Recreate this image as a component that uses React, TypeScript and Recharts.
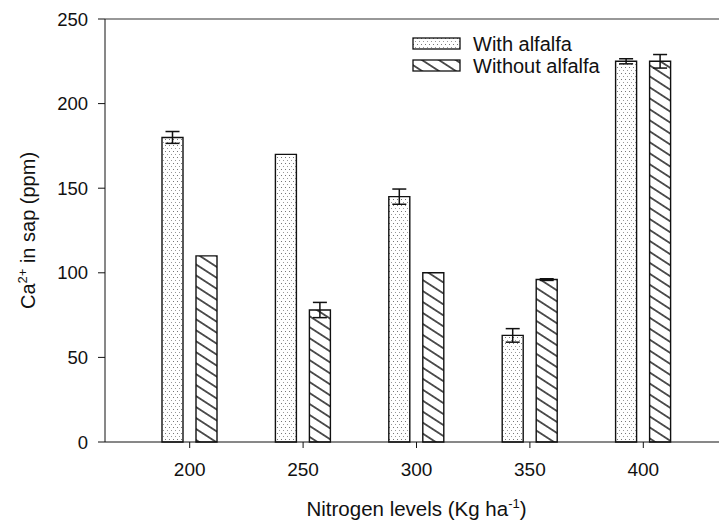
import { BarChart, Bar, XAxis, YAxis, ErrorBar, ReferenceLine, Legend, Label } from "recharts";

const NITROGEN = ["200", "250", "300", "350", "400"];
const WITH_ALFALFA = [180, 170, 145, 63, 225];
const WITH_ALFALFA_ERR = [3.5, 0, 4.5, 4, 1.5];
const WITHOUT_ALFALFA = [110, 78, 100, 96, 225];
const WITHOUT_ALFALFA_ERR = [0, 4.5, 0, 0.5, 4];
const Y_TICKS = [0, 50, 100, 150, 200, 250];

const FONT = '"Liberation Sans", Arial, sans-serif';
const INK = "#111";

const data = NITROGEN.map((n, i) => ({
  n,
  withA: WITH_ALFALFA[i],
  withErr: WITH_ALFALFA_ERR[i],
  withoutA: WITHOUT_ALFALFA[i],
  withoutErr: WITHOUT_ALFALFA_ERR[i],
}));

const Patterns = ({ prefix }: { prefix: string }) => (
  <defs>
    <pattern id={`${prefix}-dots`} width={4} height={6} patternUnits="userSpaceOnUse">
      <rect width={4} height={6} fill="#fff" />
      <rect x={1} y={1} width={1} height={1} fill="#777" />
      <rect x={3} y={4} width={1} height={1} fill="#999" />
    </pattern>
    <pattern
      id={`${prefix}-hatch`}
      width={10}
      height={9.2}
      patternUnits="userSpaceOnUse"
      patternTransform="rotate(33)"
    >
      <rect width={10} height={9.2} fill="#fff" />
      <line x1={0} y1={4.6} x2={10} y2={4.6} stroke={INK} strokeWidth={1.4} />
    </pattern>
  </defs>
);

const LEGEND_ROWS = [
  { label: "With alfalfa", fill: "dots" },
  { label: "Without alfalfa", fill: "hatch" },
];

const LegendBox = () => (
  <div style={{ fontFamily: FONT, fontSize: 20, color: INK }}>
    {LEGEND_ROWS.map((r) => (
      <div key={r.label} style={{ display: "flex", alignItems: "center", height: 22 }}>
        <svg width={50} height={14} style={{ flex: "none" }}>
          <Patterns prefix={`lg-${r.fill}`} />
          <rect
            x={1}
            y={1}
            width={47}
            height={11}
            fill={`url(#lg-${r.fill}-${r.fill})`}
            stroke={INK}
            strokeWidth={1.3}
          />
        </svg>
        <span style={{ marginLeft: 11, whiteSpace: "nowrap", lineHeight: "22px" }}>{r.label}</span>
      </div>
    ))}
  </div>
);

const YTitle = ({ viewBox }: any) => {
  const cy = viewBox.y + viewBox.height / 2;
  const x = 35;
  return (
    <text
      x={x}
      y={cy}
      transform={`rotate(-90 ${x} ${cy})`}
      textAnchor="middle"
      fontFamily={FONT}
      fontSize={20}
      fill={INK}
    >
      Ca<tspan dy={-8} fontSize={13}>2+</tspan>
      <tspan dy={8}> in sap (ppm)</tspan>
    </text>
  );
};

const XTitle = ({ viewBox }: any) => {
  const cx = viewBox.x + viewBox.width / 2;
  return (
    <text x={cx} y={516} textAnchor="middle" fontFamily={FONT} fontSize={20.5} fill={INK}>
      Nitrogen levels (Kg ha<tspan dy={-8} fontSize={13}>-1</tspan>
      <tspan dy={8}>)</tspan>
    </text>
  );
};

export default function App() {
  return (
    <div
      style={{
        position: "absolute",
        left: 0,
        top: 0,
        width: 719,
        height: 524,
        overflow: "hidden",
        background: "#fff",
      }}
    >
      <BarChart
        width={740}
        height={524}
        data={data}
        margin={{ top: 19, right: 12, left: 0, bottom: 0 }}
        barSize={21}
        barGap={13}
      >
        <Patterns prefix="ch" />
        <XAxis
          dataKey="n"
          height={82}
          padding={{ left: 28, right: 28 }}
          stroke={INK}
          tickSize={6}
          tickMargin={15}
          tick={{ fontFamily: FONT, fontSize: 19, fill: INK }}
        >
          <Label content={<XTitle />} />
        </XAxis>
        <YAxis
          width={105}
          domain={[0, 250]}
          ticks={Y_TICKS}
          stroke={INK}
          tickSize={7}
          tickMargin={10}
          tick={{ fontFamily: FONT, fontSize: 18.5, fill: INK }}
        >
          <Label content={<YTitle />} />
        </YAxis>
        <ReferenceLine y={250} stroke="#333" strokeWidth={1.2} />
        <Legend
          layout="vertical"
          verticalAlign="middle"
          align="center"
          content={<LegendBox />}
          wrapperStyle={{ left: 412, top: 33, width: "auto" }}
        />
        <Bar
          dataKey="withA"
          name="With alfalfa"
          fill="url(#ch-dots)"
          stroke={INK}
          strokeWidth={1.4}
          isAnimationActive={false}
        >
          <ErrorBar dataKey="withErr" width={7} stroke={INK} strokeWidth={1.5} direction="y" />
        </Bar>
        <Bar
          dataKey="withoutA"
          name="Without alfalfa"
          fill="url(#ch-hatch)"
          stroke={INK}
          strokeWidth={1.4}
          isAnimationActive={false}
        >
          <ErrorBar dataKey="withoutErr" width={7} stroke={INK} strokeWidth={1.5} direction="y" />
        </Bar>
      </BarChart>
    </div>
  );
}
